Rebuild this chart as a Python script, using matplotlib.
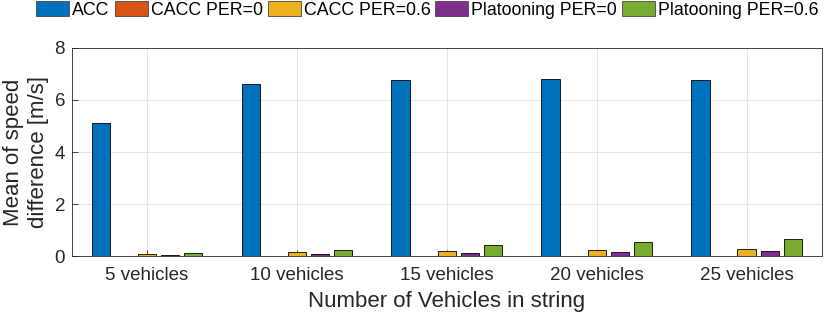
import matplotlib
matplotlib.use("Agg")
import matplotlib.pyplot as plt
import numpy as np

plt.rcParams['font.family'] = ['Liberation Sans', 'DejaVu Sans']

categories = ["5 vehicles", "10 vehicles", "15 vehicles", "20 vehicles", "25 vehicles"]
series_names = ["ACC", "CACC PER=0", "CACC PER=0.6", "Platooning PER=0", "Platooning PER=0.6"]
acc = [5.13, 6.63, 6.78, 6.8, 6.78]
cacc_per0 = [0.01, 0.01, 0.01, 0.01, 0.01]
cacc_per06 = [0.09, 0.17, 0.2, 0.23, 0.26]
plat_per0 = [0.05, 0.09, 0.12, 0.17, 0.2]
plat_per06 = [0.13, 0.24, 0.41, 0.54, 0.66]
colors = ["#0072BD", "#D95319", "#EDB120", "#7E2F8E", "#77AC30"]

data = [acc, cacc_per0, cacc_per06, plat_per0, plat_per06]

fig = plt.figure(figsize=(8.3, 3.17), dpi=100)
ax = fig.add_axes([0.0867, 0.1924, 0.9033, 0.6562])

n = len(data)
groupwidth = min(0.8, n / (n + 1.5))
step = groupwidth / n
width = 0.8 * step
x = np.arange(1, len(categories) + 1)
handles = []
for i, (vals, c, name) in enumerate(zip(data, colors, series_names)):
    off = (i - (n - 1) / 2) * step
    h = ax.bar(x + off, vals, width, color=c, edgecolor="black", linewidth=0.6, label=name, zorder=3)
    handles.append(h)

ax.set_xlim(0.5, 5.5)
ax.set_ylim(0, 8)
ax.set_xticks(x)
ax.set_xticklabels(categories)
ax.set_yticks([0, 2, 4, 6, 8])
ax.tick_params(axis='both', labelsize=13.5, colors="#262626", direction='in', length=4, width=0.6)
ax.tick_params(axis='x', pad=8)
ax.tick_params(axis='y', pad=5)
ax.grid(True, color="#e3e3e3", linewidth=0.7, zorder=0)
for s in ax.spines.values():
    s.set_color("#262626")
    s.set_linewidth(0.6)
ax.set_xlabel("Number of Vehicles in string", fontsize=16, color="#262626", labelpad=5)
ax.set_ylabel("Mean of speed\ndifference [m/s]", fontsize=16, color="#262626", linespacing=1.25, labelpad=4)

leg = fig.legend(handles=handles, loc="upper center", bbox_to_anchor=(0.515, 1.0), ncol=5,
                 frameon=False, fontsize=12.8, handlelength=1.86, handleheight=0.95,
                 handletextpad=0.17, columnspacing=0.28, borderaxespad=0, borderpad=0.05)
for p in leg.get_patches():
    p.set_edgecolor("#444444")
    p.set_linewidth(0.6)

fig.savefig("out.png", dpi=100)
